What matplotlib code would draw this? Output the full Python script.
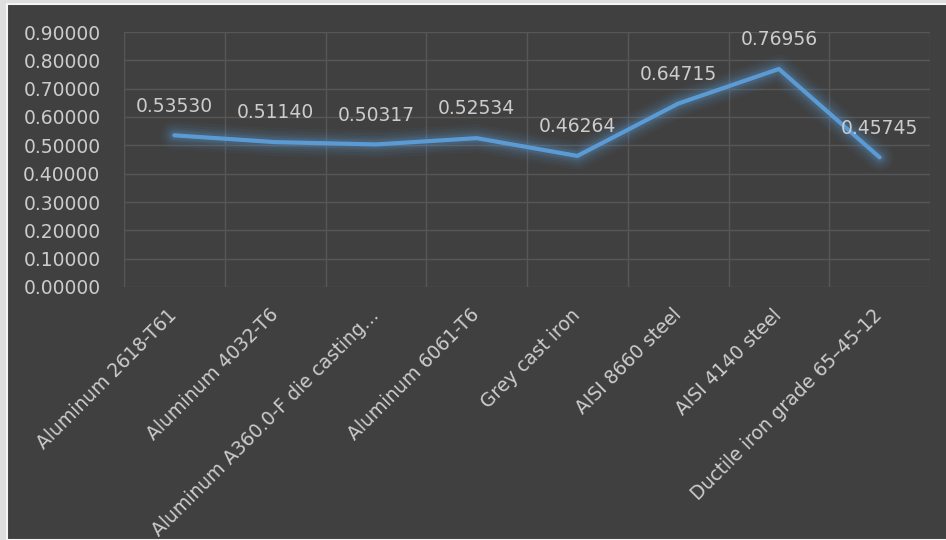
import matplotlib.pyplot as plt
from matplotlib.patches import Rectangle

materials = ["Aluminum 2618-T61", "Aluminum 4032-T6", "Aluminum A360.0-F die casting…",
             "Aluminum 6061-T6", "Grey cast iron", "AISI 8660 steel", "AISI 4140 steel",
             "Ductile iron grade 65–45-12"]
values = [0.53530, 0.51140, 0.50317, 0.52534, 0.46264, 0.64715, 0.76956, 0.45745]
yticks = [0.0, 0.1, 0.2, 0.3, 0.4, 0.5, 0.6, 0.7, 0.8, 0.9]

bg = '#404040'
txt = '#cccccc'
blue = '#5b9bd5'

plt.rcParams['font.family'] = ['DejaVu Sans']

fig = plt.figure(figsize=(9.46, 5.40), dpi=100)
fig.set_facecolor('#dedede')
fig.patches.append(Rectangle((7/946, 0), 1, 1 - 4/540, transform=fig.transFigure,
                             facecolor=bg, edgecolor='#f4f4f4', linewidth=1.5, zorder=-1))

ax = fig.add_axes([124/946, 1 - 287/540, 806/946, 255/540])
ax.set_zorder(1)
ax.set_facecolor(bg)
x = list(range(len(values)))

# soft glow under the line
for w, a in [(20, 0.05), (16, 0.06), (12, 0.08), (9, 0.10), (6.5, 0.14)]:
    ax.plot(x, values, color=blue, linewidth=w, alpha=a, solid_capstyle='round',
            solid_joinstyle='round', zorder=2)
ax.plot(x, values, color=blue, linewidth=3, solid_capstyle='round', zorder=3)

for i, v in enumerate(values):
    ax.annotate(f'{v:.5f}', (i, v), xytext=(0, 21), textcoords='offset points',
                ha='center', va='center', color=txt, fontsize=13.5, zorder=4)

ax.set_xlim(-0.5, len(values) - 0.5)
ax.set_ylim(0, 0.9)
ax.set_yticks(yticks)
ax.set_yticklabels([f'{t:.5f}' for t in yticks], color=txt, fontsize=13.5)
ax.set_xticks(x)
ax.set_xticklabels(materials, rotation=45, ha='right', va='center', rotation_mode='anchor',
                   color=txt, fontsize=13.5)
ax.set_xticks([i - 0.5 for i in range(len(values) + 1)], minor=True)
ax.tick_params(axis='y', length=0, pad=17)
ax.tick_params(axis='x', which='major', length=0, pad=18)
ax.tick_params(axis='x', which='minor', length=0)
ax.grid(axis='y', color='#575757', linewidth=1)
ax.grid(axis='x', which='minor', color='#575757', linewidth=1)
ax.grid(axis='x', which='major', visible=False)
for s in ax.spines.values():
    s.set_visible(False)
ax.set_axisbelow(True)

fig.savefig('out.png', dpi=100, facecolor=fig.get_facecolor())
